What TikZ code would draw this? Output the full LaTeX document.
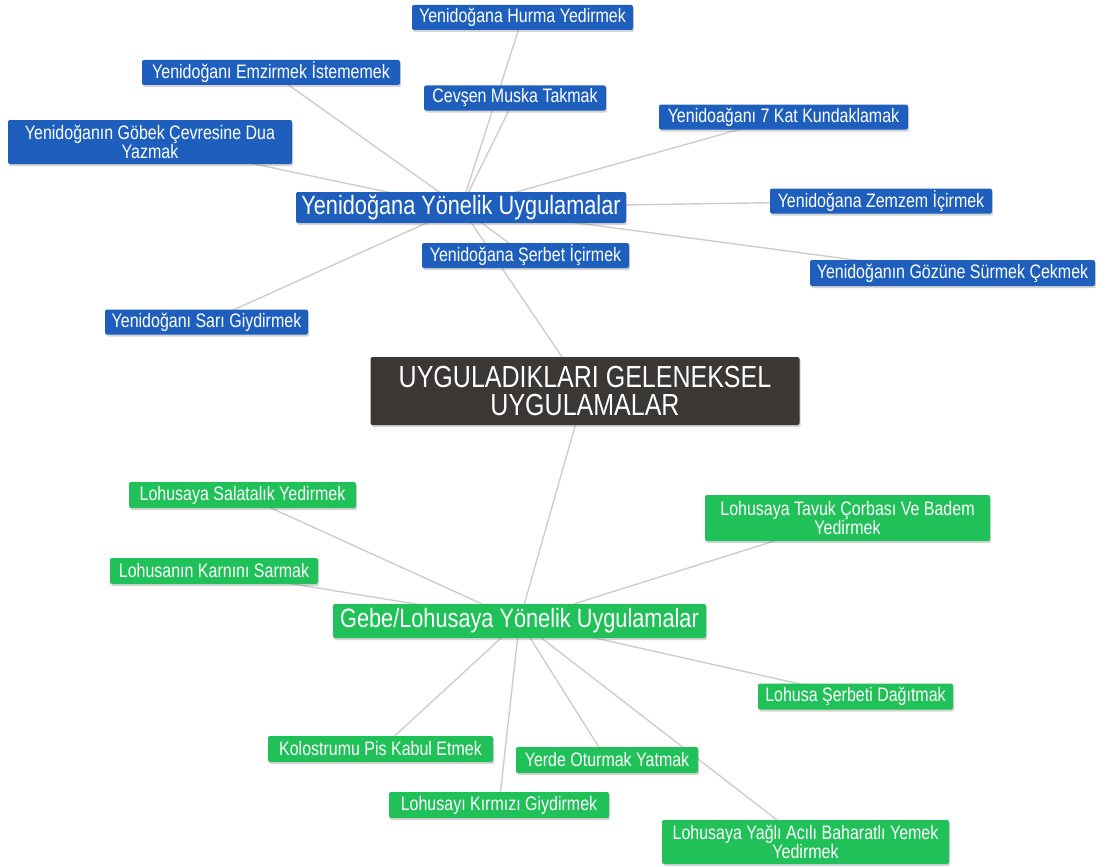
\documentclass[tikz,border=0pt]{standalone}
\usepackage{fontspec}
\setmainfont{Liberation Sans}[FakeStretch=0.82]
\usetikzlibrary{shadows,backgrounds}

\definecolor{nbBlue}{RGB}{30,95,190}
\definecolor{nbGreen}{RGB}{33,193,90}
\definecolor{nbDark}{RGB}{58,55,53}
\definecolor{nbLine}{RGB}{205,205,205}

\tikzset{
  box/.style={rounded corners=2pt, text=white, inner sep=0pt, align=center,
    drop shadow={shadow xshift=1.2pt, shadow yshift=-2pt, opacity=0.28, fill=black!60}},
  leaf/.style={box, font=\fontsize{19.5}{17.5}\selectfont},
  hub/.style={box, font=\fontsize{26.5}{26}\selectfont},
  bleaf/.style={leaf, fill=nbBlue},
  gleaf/.style={leaf, fill=nbGreen},
  bhub/.style={hub, fill=nbBlue},
  ghub/.style={hub, fill=nbGreen},
  rootbox/.style={box, fill=nbDark, font=\fontsize{30.5}{28}\selectfont},
  link/.style={draw=nbLine, line width=1.4pt},
  sz/.style 2 args={minimum width=#1, minimum height=#2}
}

\begin{document}
\begin{tikzpicture}[x=1pt, y=-1pt]
\useasboundingbox (0,0) rectangle (1106,867);

% central topic
\node[rootbox, sz={429pt}{68pt}] (root) at (585,391) {UYGULADIKLARI GELENEKSEL\\UYGULAMALAR};

% newborn branch
\node[bhub, sz={330pt}{31pt}] (nb) at (461,207.5) {Yenidoğana Yönelik Uygulamalar};
\node[bleaf, sz={221pt}{25pt}] (hurma) at (522.5,17.5) {Yenidoğana Hurma Yedirmek};
\node[bleaf, sz={258pt}{25pt}] (emzir) at (271,72.5) {Yenidoğanı Emzirmek İstememek};
\node[bleaf, sz={182pt}{25pt}] (cevsen) at (515,98) {Cevşen Muska Takmak};
\node[bleaf, sz={249pt}{25pt}] (kat) at (783.5,117) {Yenidoağanı 7 Kat Kundaklamak};
\node[bleaf, sz={284pt}{44pt}] (gobek) at (150,142) {Yenidoğanın Göbek Çevresine Dua\\Yazmak};
\node[bleaf, sz={222pt}{25pt}] (zemzem) at (881,201) {Yenidoğana Zemzem İçirmek};
\node[bleaf, sz={207pt}{25pt}] (serbet) at (525.5,255.5) {Yenidoğana Şerbet İçirmek};
\node[bleaf, sz={285pt}{26pt}] (gozune) at (952.5,273) {Yenidoğanın Gözüne Sürmek Çekmek};
\node[bleaf, sz={203pt}{25pt}] (sari) at (206.5,322) {Yenidoğanı Sarı Giydirmek};

% mother branch
\node[ghub, sz={373pt}{34pt}] (mo) at (519.5,621) {Gebe/Lohusaya Yönelik Uygulamalar};
\node[gleaf, sz={227pt}{26pt}] (salata) at (242.5,495) {Lohusaya Salatalık Yedirmek};
\node[gleaf, sz={285pt}{46pt}] (tavuk) at (847.5,518) {Lohusaya Tavuk Çorbası Ve Badem\\Yedirmek};
\node[gleaf, sz={208pt}{26pt}] (karin) at (214,571) {Lohusanın Karnını Sarmak};
\node[gleaf, sz={195pt}{26pt}] (serbeti) at (855.5,696.5) {Lohusa Şerbeti Dağıtmak};
\node[gleaf, sz={225pt}{26pt}] (kolos) at (380.5,749) {Kolostrumu Pis Kabul Etmek};
\node[gleaf, sz={182pt}{26pt}] (yerde) at (607,760) {Yerde Oturmak Yatmak};
\node[gleaf, sz={220pt}{26pt}] (kirmizi) at (499,805) {Lohusayı Kırmızı Giydirmek};
\node[gleaf, sz={287pt}{44pt}] (yagli) at (805.5,842) {Lohusaya Yağlı Acılı Baharatlı Yemek\\Yedirmek};

% connectors run underneath the boxes
\begin{scope}[on background layer]
  \draw[link] (root.center) -- (nb.center);
  \draw[link] (root.center) -- (mo.center);
  \foreach \t in {hurma,emzir,cevsen,kat,gobek,zemzem,serbet,gozune,sari}
    \draw[link] (nb.center) -- (\t.center);
  \foreach \t in {salata,tavuk,karin,serbeti,kolos,yerde,kirmizi,yagli}
    \draw[link] (mo.center) -- (\t.center);
\end{scope}
\end{tikzpicture}
\end{document}
